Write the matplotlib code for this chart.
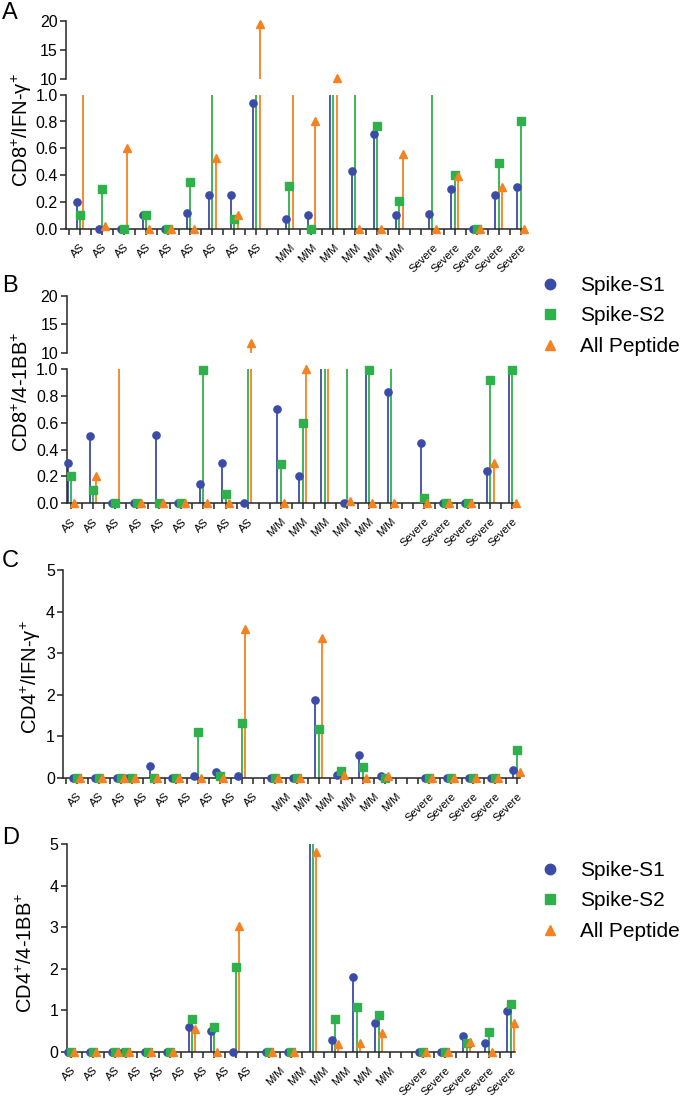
import numpy as np
import matplotlib
matplotlib.use("Agg")
import matplotlib.pyplot as plt
from matplotlib.lines import Line2D

plt.rcParams['font.family'] = ['Liberation Sans', 'DejaVu Sans']
plt.rcParams['mathtext.fontset'] = 'custom'
plt.rcParams['mathtext.rm'] = 'Liberation Sans'
plt.rcParams['mathtext.it'] = 'Liberation Sans:italic'

# categories (patient groups)
categories = ["AS"] * 9 + ["M/M"] * 6 + ["Severe"] * 5
series_names = ["Spike-S1", "Spike-S2", "All Peptide"]

# A: CD8+/IFN-g+
A_s1 = [0.20, 0.00, 0.00, 0.10, 0.00, 0.12, 0.25, 0.25, 0.94, 0.07, 0.10, 5.0, 0.43, 0.71, 0.10, 0.11, 0.30, 0.00, 0.25, 0.31]
A_s2 = [0.10, 0.30, 0.00, 0.10, 0.00, 0.35, 5.0, 0.07, 5.0, 0.32, 0.00, 5.0, 5.0, 0.77, 0.21, 5.0, 0.40, 0.00, 0.49, 0.80]
A_ap = [5.0, 0.02, 0.60, 0.00, 0.00, 0.00, 0.53, 0.10, 19.5, 5.0, 0.80, 10.3, 0.00, 0.00, 0.56, 0.00, 0.39, 0.00, 0.31, 0.00]

# B: CD8+/4-1BB+
B_s1 = [0.30, 0.50, 0.00, 0.00, 0.51, 0.00, 0.14, 0.30, 0.00, 0.70, 0.20, 5.0, 0.00, 5.0, 0.83, 0.45, 0.00, 0.00, 0.24, 5.0]
B_s2 = [0.20, 0.10, 0.00, 0.00, 0.00, 0.00, 0.99, 0.07, 5.0, 0.29, 0.60, 5.0, 5.0, 0.99, 5.0, 0.04, 0.00, 0.00, 0.92, 0.99]
B_ap = [0.00, 0.20, 5.0, 0.00, 0.00, 0.00, 0.00, 0.00, 11.8, 0.00, 1.00, 5.0, 0.02, 0.00, 0.00, 0.00, 0.00, 0.00, 0.30, 0.00]

# C: CD4+/IFN-g+
C_s1 = [0, 0, 0, 0, 0.29, 0, 0.05, 0.13, 0.03, 0, 0, 1.88, 0.06, 0.55, 0.05, 0, 0, 0, 0, 0.18]
C_s2 = [0, 0, 0, 0, 0, 0, 1.10, 0.05, 1.31, 0, 0, 1.17, 0.15, 0.27, 0.0, 0, 0, 0, 0, 0.67]
C_ap = [0, 0, 0, 0, 0, 0, 0, 0, 3.58, 0, 0, 3.36, 0.06, 0, 0.03, 0, 0, 0, 0, 0.13]

# D: CD4+/4-1BB+
D_s1 = [0, 0, 0, 0, 0, 0, 0.61, 0.51, 0, 0, 0, 7.0, 0.30, 1.81, 0.71, 0, 0, 0.39, 0.21, 0.99]
D_s2 = [0, 0, 0, 0, 0, 0, 0.79, 0.60, 2.04, 0, 0, 7.0, 0.79, 1.08, 0.88, 0, 0, 0.22, 0.47, 1.16]
D_ap = [0, 0, 0, 0, 0, 0, 0.55, 0, 3.03, 0, 0, 4.81, 0.20, 0.22, 0.46, 0, 0, 0.25, 0, 0.69]

COLORS = ['#3B4CA8', '#2EB04A', '#F48220']
MARKERS = ['o', 's', '^']
OFFSETS = [-0.15, 0.0, 0.15]
AXC = '#262626'

W, H = 685, 1098

# label positions (gaps between groups)
label_pos = np.r_[np.arange(9), np.arange(9.5, 15), np.arange(16, 21)]
# C and D have the AS columns after the third shifted half a slot
shift_pos = np.r_[np.arange(3), np.arange(2.5, 8), np.arange(9, 15), np.arange(16, 21)]


def rect(left, right, top, bottom):
    return [left / W, 1 - bottom / H, (right - left) / W, (bottom - top) / H]


def style_ax(ax, xlim, ylim, yticks, ylabels):
    ax.set_xlim(*xlim)
    ax.set_ylim(*ylim)
    ax.set_yticks(yticks)
    ax.set_yticklabels(ylabels)
    for s in ['top', 'right']:
        ax.spines[s].set_visible(False)
    for s in ['left', 'bottom']:
        ax.spines[s].set_color(AXC)
        ax.spines[s].set_linewidth(1.1)
    ax.tick_params(axis='y', direction='out', length=4, width=1.1, color=AXC, labelsize=11.5, pad=2)


def draw_stems(ax, xpos, vals, lo, hi):
    for vals_i, c, m, off in zip(vals, COLORS, MARKERS, OFFSETS):
        v = np.asarray(vals_i, dtype=float)
        x = xpos + off
        nz = v > 0
        ax.vlines(x[nz], 0, v[nz], color=c, lw=1.3, zorder=2)
        show = (v >= lo) & (v <= hi * 1.001)
        ax.plot(x[show], v[show], ls='none', marker=m, color=c, ms=5.2,
                mec=c, clip_on=False, zorder=3)


def set_xticks(ax, xlim):
    ticks = np.arange(-0.5, 20.51, 0.5)
    ticks = ticks[(ticks >= xlim[0]) & (ticks <= xlim[1])]
    ax.set_xticks(ticks, minor=True)
    ax.set_xticks(label_pos)
    ax.set_xticklabels(categories, rotation=45, ha='right', va='top',
                       rotation_mode='anchor', fontsize=8)
    ax.tick_params(axis='x', which='both', direction='out', length=4, width=1.1,
                   color=AXC, pad=5.5)


def broken_panel(fig, left, right, top_up, bot_up, top_lo, bot_lo, xlim, xpos, vals):
    ax_up = fig.add_axes(rect(left, right, top_up, bot_up))
    ax_lo = fig.add_axes(rect(left, right, top_lo, bot_lo))

    style_ax(ax_up, xlim, (10, 20), [10, 15, 20], ['10', '15', '20'])
    ax_up.spines['bottom'].set_visible(False)
    ax_up.set_xticks([])
    draw_stems(ax_up, xpos, vals, 10, 20)

    yt = np.arange(0, 1.01, 0.2)
    style_ax(ax_lo, xlim, (0, 1), yt, ['%.1f' % t for t in yt])
    set_xticks(ax_lo, xlim)
    draw_stems(ax_lo, xpos, vals, 0, 1)
    return ax_up, ax_lo


def single_panel(fig, left, right, top, bot, xlim, xpos, vals):
    ax = fig.add_axes(rect(left, right, top, bot))
    style_ax(ax, xlim, (0, 5), range(6), [str(t) for t in range(6)])
    set_xticks(ax, xlim)
    draw_stems(ax, xpos, vals, 0, 5)
    return ax


def add_legend(fig, x, y):
    handles = [Line2D([], [], ls='none', marker=m, color=c, ms=7.5)
               for m, c in zip(MARKERS, COLORS)]
    fig.legend(handles, series_names, loc='upper left',
               bbox_to_anchor=(x / W, 1 - y / H), frameon=False,
               fontsize=15, handlelength=1.0, handletextpad=0.9,
               labelspacing=0.55, borderpad=0, borderaxespad=0)


def main():
    fig = plt.figure(figsize=(W / 100, H / 100), dpi=100)

    broken_panel(fig, 66, 525, 21.3, 79.3, 94.7, 228.7, (-0.64, 20.2), label_pos,
                 [A_s1, A_s2, A_ap])
    broken_panel(fig, 66.7, 516.7, 295.7, 353.3, 369, 503.3, (-0.2, 20.2), label_pos,
                 [B_s1, B_s2, B_ap])
    single_panel(fig, 63.3, 520, 570.3, 777.7, (-0.6, 20.15), shift_pos,
                 [C_s1, C_s2, C_ap])
    single_panel(fig, 66.7, 515, 844.3, 1052, (-0.2, 20.2), shift_pos,
                 [D_s1, D_s2, D_ap])

    # y labels
    ylabels = [("CD8$^{+}$/IFN-γ$^{+}$", 22, 130),
               ("CD8$^{+}$/4-1BB$^{+}$", 22, 392),
               ("CD4$^{+}$/IFN-γ$^{+}$", 31, 677),
               ("CD4$^{+}$/4-1BB$^{+}$", 26, 953)]
    for txt, x, y in ylabels:
        fig.text(x / W, 1 - y / H, txt, rotation=90, ha='center', va='center', fontsize=14.5)

    # panel letters
    for letter, y in zip("ABCD", [2, 275, 550, 827]):
        fig.text(2 / W, 1 - y / H, letter, ha='left', va='top', fontsize=17)

    add_legend(fig, 540, 276)
    add_legend(fig, 540, 861)

    fig.savefig('out.png', dpi=100)


if __name__ == "__main__":
    main()
